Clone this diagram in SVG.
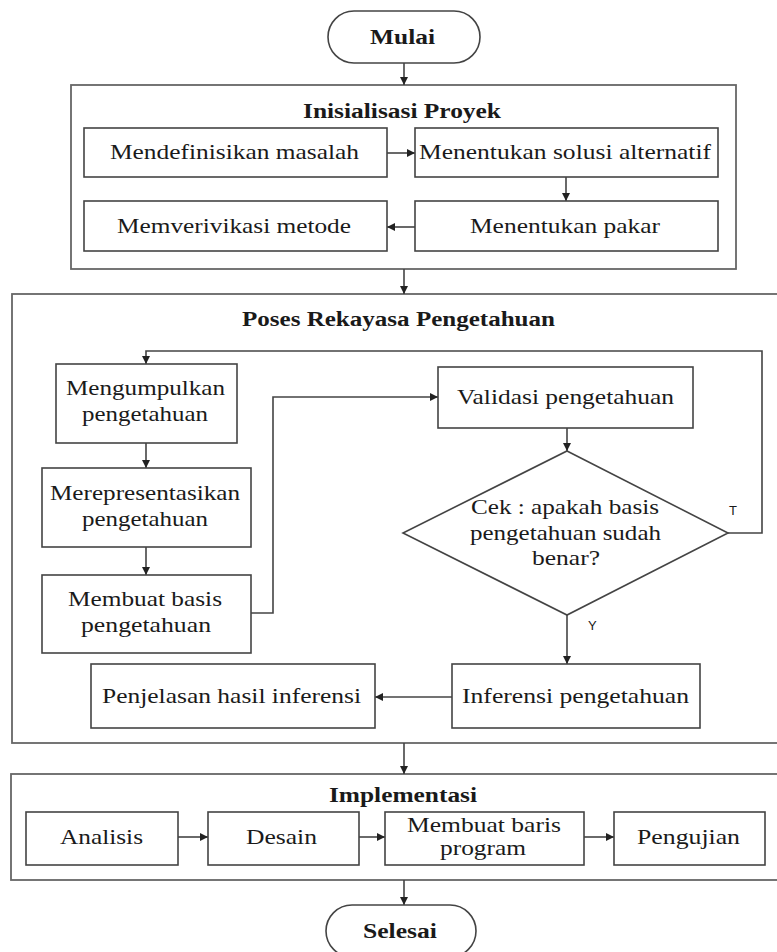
<svg xmlns="http://www.w3.org/2000/svg" width="777" height="952" viewBox="0 0 777 952">
<style>
.bg{fill:#fff}
.box{fill:#fff;stroke:#444;stroke-width:1.6}
.frame{fill:none;stroke:#666;stroke-width:1.8}
.t{font-family:"Liberation Serif","Times New Roman",serif;font-size:21px;fill:#1a1a1a}
.b{font-family:"Liberation Serif","Times New Roman",serif;font-size:20px;font-weight:bold;fill:#1a1a1a}
.s{font-family:"Liberation Sans",Arial,sans-serif;font-size:13px;fill:#1a1a1a}
.c{fill:none;stroke:#444;stroke-width:1.6}
</style>
<defs>
<marker id="ah" viewBox="0 0 10 10" refX="10" refY="5" markerWidth="8" markerHeight="8" markerUnits="userSpaceOnUse" orient="auto">
<path d="M0,0 L10,5 L0,10 z" fill="#222"/>
</marker>
</defs>
<rect class="bg" x="0" y="0" width="777" height="952"/>

<g id="frames">
<rect id="frame-inisialisasi" class="frame" x="71" y="85" width="665" height="184"/>
<rect id="frame-poses" class="frame" x="12" y="294" width="780" height="449"/>
<rect id="frame-implementasi" class="frame" x="11" y="774" width="780" height="106"/>
<text class="b" x="303" y="118" textLength="198" lengthAdjust="spacingAndGlyphs">Inisialisasi Proyek</text>
<text class="b" x="242" y="326" textLength="313" lengthAdjust="spacingAndGlyphs">Poses Rekayasa Pengetahuan</text>
<text class="b" x="329" y="802" textLength="148" lengthAdjust="spacingAndGlyphs">Implementasi</text>
</g>

<g id="connectors">
<path class="c" d="M404,63 V85" marker-end="url(#ah)"/>
<path class="c" d="M387,153 H415" marker-end="url(#ah)"/>
<path class="c" d="M566,177 V201" marker-end="url(#ah)"/>
<path class="c" d="M415,227 H387" marker-end="url(#ah)"/>
<path class="c" d="M404,269 V294" marker-end="url(#ah)"/>
<path class="c" d="M146,443 V468" marker-end="url(#ah)"/>
<path class="c" d="M146,547 V575" marker-end="url(#ah)"/>
<path class="c" d="M251,613 H273 V397 H438" marker-end="url(#ah)"/>
<path class="c" d="M567,428 V451" marker-end="url(#ah)"/>
<path class="c" d="M728,533 H762 V351 H146 V364" marker-end="url(#ah)"/>
<path class="c" d="M567,615 V664" marker-end="url(#ah)"/>
<path class="c" d="M452,697 H375" marker-end="url(#ah)"/>
<path class="c" d="M404,743 V774" marker-end="url(#ah)"/>
<path class="c" d="M178,837 H208" marker-end="url(#ah)"/>
<path class="c" d="M359,837 H385" marker-end="url(#ah)"/>
<path class="c" d="M584,837 H614" marker-end="url(#ah)"/>
<path class="c" d="M404,880 V905" marker-end="url(#ah)"/>
<text class="s" x="729" y="515">T</text>
<text class="s" x="588" y="630">Y</text>
</g>

<g id="mulai">
<rect class="box" x="328" y="11" width="152" height="52" rx="26"/>
<text class="b" x="370" y="44" textLength="65" lengthAdjust="spacingAndGlyphs">Mulai</text>
</g>

<g id="mendefinisikan">
<rect class="box" x="84" y="128" width="303" height="49"/>
<text class="t" x="110" y="159" textLength="249" lengthAdjust="spacingAndGlyphs">Mendefinisikan masalah</text>
</g>
<g id="solusi">
<rect class="box" x="415" y="128" width="303" height="49"/>
<text class="t" x="419" y="159" textLength="292" lengthAdjust="spacingAndGlyphs">Menentukan solusi alternatif</text>
</g>
<g id="verifikasi">
<rect class="box" x="84" y="201" width="303" height="50"/>
<text class="t" x="117" y="233" textLength="234" lengthAdjust="spacingAndGlyphs">Memverivikasi metode</text>
</g>
<g id="pakar">
<rect class="box" x="415" y="201" width="303" height="50"/>
<text class="t" x="470" y="233" textLength="190" lengthAdjust="spacingAndGlyphs">Menentukan pakar</text>
</g>

<g id="mengumpulkan">
<rect class="box" x="56" y="364" width="181" height="79"/>
<text class="t" x="66" y="395" textLength="159" lengthAdjust="spacingAndGlyphs">Mengumpulkan</text>
<text class="t" x="82" y="421" textLength="126" lengthAdjust="spacingAndGlyphs">pengetahuan</text>
</g>
<g id="merepresentasikan">
<rect class="box" x="42" y="468" width="209" height="79"/>
<text class="t" x="50" y="500" textLength="190" lengthAdjust="spacingAndGlyphs">Merepresentasikan</text>
<text class="t" x="82" y="526" textLength="126" lengthAdjust="spacingAndGlyphs">pengetahuan</text>
</g>
<g id="membuat-basis">
<rect class="box" x="42" y="575" width="209" height="78"/>
<text class="t" x="68" y="606" textLength="154" lengthAdjust="spacingAndGlyphs">Membuat basis</text>
<text class="t" x="81" y="632" textLength="130" lengthAdjust="spacingAndGlyphs">pengetahuan</text>
</g>

<g id="validasi">
<rect class="box" x="438" y="367" width="255" height="61"/>
<text class="t" x="457" y="404" textLength="217" lengthAdjust="spacingAndGlyphs">Validasi pengetahuan</text>
</g>
<g id="cek">
<polygon class="box" points="567,451 728,533 567,615 403,533"/>
<text class="t" x="471" y="514" textLength="188" lengthAdjust="spacingAndGlyphs">Cek : apakah basis</text>
<text class="t" x="470" y="540" textLength="191" lengthAdjust="spacingAndGlyphs">pengetahuan sudah</text>
<text class="t" x="532" y="565" textLength="68" lengthAdjust="spacingAndGlyphs">benar?</text>
</g>

<g id="inferensi">
<rect class="box" x="452" y="664" width="248" height="64"/>
<text class="t" x="462" y="703" textLength="227" lengthAdjust="spacingAndGlyphs">Inferensi pengetahuan</text>
</g>
<g id="penjelasan">
<rect class="box" x="91" y="664" width="284" height="64"/>
<text class="t" x="102" y="703" textLength="259" lengthAdjust="spacingAndGlyphs">Penjelasan hasil inferensi</text>
</g>

<g id="analisis">
<rect class="box" x="26" y="812" width="152" height="53"/>
<text class="t" x="60" y="844" textLength="83" lengthAdjust="spacingAndGlyphs">Analisis</text>
</g>
<g id="desain">
<rect class="box" x="208" y="812" width="151" height="53"/>
<text class="t" x="246" y="844" textLength="71" lengthAdjust="spacingAndGlyphs">Desain</text>
</g>
<g id="membuat-baris">
<rect class="box" x="385" y="812" width="199" height="53"/>
<text class="t" x="407" y="832" textLength="154" lengthAdjust="spacingAndGlyphs">Membuat baris</text>
<text class="t" x="440" y="855" textLength="86" lengthAdjust="spacingAndGlyphs">program</text>
</g>
<g id="pengujian">
<rect class="box" x="614" y="812" width="151" height="53"/>
<text class="t" x="637" y="844" textLength="103" lengthAdjust="spacingAndGlyphs">Pengujian</text>
</g>

<g id="selesai">
<rect class="box" x="326" y="905" width="150" height="52" rx="26"/>
<text class="b" x="363" y="938" textLength="74" lengthAdjust="spacingAndGlyphs">Selesai</text>
</g>
</svg>
